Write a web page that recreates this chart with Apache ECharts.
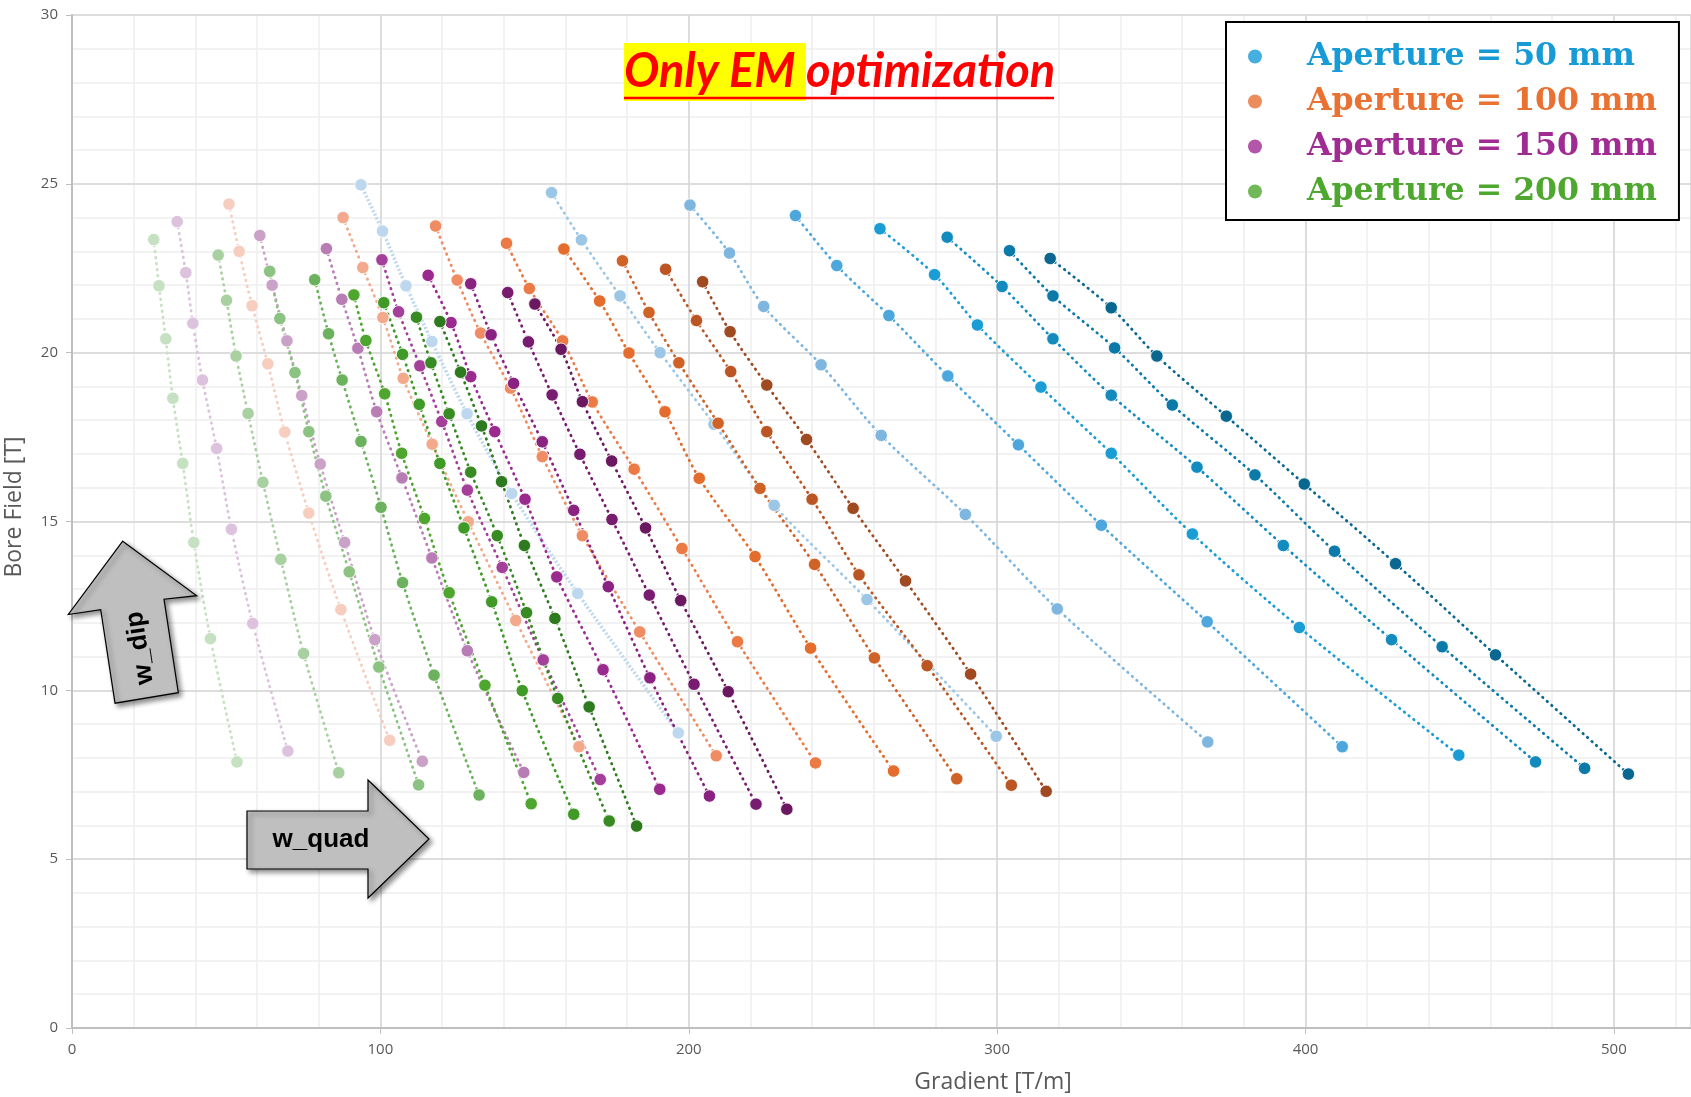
<!DOCTYPE html>
<html>
<head>
<meta charset="utf-8">
<script src="https://cdn.jsdelivr.net/npm/echarts@6/dist/echarts.min.js"></script>
<style>
html,body{margin:0;padding:0;background:#fff;}
#chart{width:1691px;height:1097px;}
</style>
</head>
<body>
<div id="chart"></div>
<script>
// ---- Data: [Gradient T/m, Bore Field T] per design line ----
const ap50 = [
  [[93.7,24.97],[100.7,23.6],[108.3,21.98],[116.7,20.33],[128.1,18.19],[142.6,15.83],[164.0,12.87],[196.6,8.74]],
  [[155.5,24.74],[165.2,23.34],[177.7,21.68],[190.7,20.0],[208.2,17.88],[227.7,15.48],[257.8,12.69],[299.7,8.64]],
  [[200.4,24.37],[213.2,22.95],[224.3,21.37],[242.9,19.64],[262.4,17.55],[289.7,15.21],[319.5,12.41],[368.3,8.47]],
  [[234.6,24.06],[248.0,22.58],[264.9,21.1],[284.0,19.31],[306.9,17.27],[333.8,14.89],[368.1,12.03],[411.9,8.33]],
  [[262.0,23.67],[279.7,22.31],[293.6,20.82],[314.2,18.98],[337.0,17.02],[363.3,14.63],[398.0,11.86],[449.7,8.08]],
  [[283.8,23.42],[301.6,21.96],[318.1,20.41],[337.0,18.74],[364.8,16.61],[392.8,14.29],[427.9,11.5],[474.6,7.88]],
  [[304.0,23.02],[318.1,21.68],[338.1,20.14],[356.8,18.45],[383.6,16.38],[409.4,14.12],[444.3,11.29],[490.5,7.69]],
  [[317.2,22.79],[337.0,21.33],[351.8,19.9],[374.3,18.12],[399.6,16.11],[429.2,13.75],[461.6,11.05],[504.7,7.52]]
];
const ap100 = [
  [[50.9,24.4],[54.2,23.0],[58.4,21.39],[63.5,19.67],[69.0,17.65],[76.8,15.25],[87.2,12.39],[103.0,8.52]],
  [[87.9,24.0],[94.3,22.52],[100.8,21.04],[107.4,19.24],[116.8,17.29],[128.5,14.99],[143.9,12.07],[164.4,8.33]],
  [[117.9,23.75],[124.9,22.15],[132.5,20.58],[142.2,18.95],[152.5,16.92],[165.5,14.58],[184.1,11.73],[208.9,8.06]],
  [[140.9,23.24],[148.3,21.9],[159.1,20.35],[168.7,18.54],[182.3,16.55],[197.8,14.2],[215.8,11.44],[241.1,7.85]],
  [[159.5,23.07],[171.1,21.53],[180.6,19.99],[192.3,18.25],[203.4,16.28],[221.5,13.96],[239.5,11.25],[266.4,7.61]],
  [[178.5,22.72],[187.1,21.19],[196.8,19.7],[209.5,17.91],[223.1,15.98],[240.8,13.73],[260.2,10.96],[286.9,7.38]],
  [[192.5,22.47],[202.5,20.95],[213.6,19.44],[225.3,17.66],[240.0,15.66],[255.2,13.42],[277.3,10.73],[304.6,7.19]],
  [[204.5,22.1],[213.4,20.62],[225.3,19.04],[238.2,17.43],[253.3,15.39],[270.3,13.24],[291.4,10.48],[315.9,7.01]]
];
const ap150 = [
  [[34.1,23.88],[36.9,22.37],[39.2,20.87],[42.3,19.19],[46.9,17.16],[51.7,14.77],[58.6,11.98],[70.0,8.2]],
  [[60.9,23.47],[64.9,22.0],[69.7,20.35],[74.5,18.73],[80.5,16.7],[88.4,14.38],[98.2,11.5],[113.6,7.9]],
  [[82.5,23.08],[87.5,21.58],[92.7,20.13],[98.8,18.25],[107.0,16.29],[116.7,13.92],[128.2,11.17],[146.5,7.57]],
  [[100.5,22.75],[105.9,21.21],[112.8,19.61],[119.9,17.96],[128.2,15.93],[139.5,13.64],[152.8,10.9],[171.3,7.36]],
  [[115.5,22.29],[122.9,20.89],[129.3,19.29],[137.1,17.66],[146.9,15.66],[157.2,13.36],[172.2,10.61],[190.6,7.07]],
  [[129.3,22.04],[135.9,20.53],[143.2,19.09],[152.5,17.36],[162.7,15.33],[173.9,13.07],[187.4,10.37],[206.7,6.87]],
  [[141.3,21.78],[148.0,20.32],[155.7,18.75],[164.7,16.99],[175.1,15.06],[187.2,12.82],[201.7,10.18],[221.8,6.63]],
  [[150.1,21.44],[158.6,20.1],[165.5,18.55],[175.0,16.79],[186.0,14.81],[197.4,12.66],[212.8,9.96],[231.8,6.48]]
];
const ap200 = [
  [[26.5,23.35],[28.2,21.98],[30.4,20.41],[32.7,18.65],[35.9,16.72],[39.5,14.38],[44.9,11.53],[53.5,7.88]],
  [[47.4,22.89],[50.1,21.55],[53.2,19.9],[57.1,18.2],[61.9,16.16],[67.7,13.88],[75.1,11.09],[86.5,7.56]],
  [[64.1,22.41],[67.4,21.01],[72.3,19.41],[76.8,17.66],[82.3,15.75],[89.9,13.51],[99.5,10.69],[112.4,7.2]],
  [[78.7,22.16],[83.2,20.56],[87.6,19.19],[93.7,17.37],[100.2,15.42],[107.2,13.19],[117.4,10.45],[132.0,6.9]],
  [[91.4,21.71],[95.3,20.36],[101.4,18.78],[106.9,17.02],[114.3,15.09],[122.3,12.89],[133.9,10.15],[148.9,6.64]],
  [[101.1,21.48],[107.2,19.95],[112.6,18.47],[119.3,16.72],[127.1,14.81],[136.1,12.62],[146.0,9.99],[162.7,6.33]],
  [[111.7,21.05],[116.4,19.7],[122.3,18.19],[129.3,16.46],[137.9,14.58],[147.4,12.3],[157.5,9.76],[174.2,6.13]],
  [[119.3,20.92],[126.0,19.42],[132.8,17.83],[139.3,16.18],[146.7,14.29],[156.6,12.13],[167.7,9.51],[183.1,5.98]]
];
const legendNames = ['Aperture = 50 mm','Aperture = 100 mm','Aperture = 150 mm','Aperture = 200 mm'];
const xTicks = [0,100,200,300,400,500];
const yTicks = [0,5,10,15,20,25,30];

// ---- Styles ----
const legendColors = ['#179bd7','#e97132','#a02b93','#4ea72e'];
const shades = [
  ['#bdd7ee','#9cc6e6','#7fb6df','#4da6dc','#1a9dd5','#138bbf','#0c7aa8','#0a6890'],
  ['#f6cdbf','#f2a98c','#ef8c63','#ec7a45','#e46c2c','#cf6227','#bb5624','#9f4a20'],
  ['#dcc2dc','#caa2c8','#b87db5','#a4409a','#9a2a8e','#8a2282','#781c70','#6a1860'],
  ['#c6e0c2','#a9d0a1','#8cc282','#6cb25e','#4ea62f','#3f9a27','#388a22','#2e7a1e']
];
const groups = [ap50, ap100, ap150, ap200];

const series = [];
groups.forEach((lines, g) => {
  lines.forEach((line, i) => {
    const c = shades[g][i];
    const special = (g === 0 && i === 0);
    series.push({
      type: 'line', data: line, smooth: 0.3, symbol: 'circle', symbolSize: 12.5,
      silent: true, animation: false, z: 2,
      lineStyle: { color: c, width: special ? 3.5 : 2.8, type: special ? [2, 2] : [0.5, 5.5], cap: special ? 'butt' : 'round' },
      itemStyle: { color: c, borderColor: 'rgba(255,255,255,0.85)', borderWidth: 1 }
    });
  });
});
legendNames.forEach((n, k) => {
  series.push({ type: 'scatter', name: n, data: [], itemStyle: { color: legendColors[k] } });
});

const axisFont = { fontFamily: 'Open Sans', fontSize: 15, color: '#595959' };

const option = {
  backgroundColor: '#fff',
  animation: false,
  grid: { left: 72, right: 0, top: 15, bottom: 69, containLabel: false },
  title: {
    text: '{a|Only EM }{b|optimization}',
    left: 624, top: 43, padding: 0,
    textStyle: {
      rich: {
        a: { backgroundColor: '#ffff00', color: '#ff0000', fontStyle: 'italic', fontWeight: 'bold', fontSize: 47, fontFamily: 'Lato', lineHeight: 58, height: 58 },
        b: { color: '#ff0000', fontStyle: 'italic', fontWeight: 'bold', fontSize: 47, fontFamily: 'Lato', lineHeight: 58, height: 58 }
      }
    }
  },
  legend: {
    orient: 'vertical', left: 1226, top: 22, padding: [15, 22, 9, 22], itemGap: 6,
    icon: 'circle', itemWidth: 14, itemHeight: 14, selectedMode: false,
    backgroundColor: '#fff', borderColor: '#000', borderWidth: 2,
    data: legendNames.map((n, k) => ({ name: n, textStyle: { color: legendColors[k] } })),
    textStyle: { fontFamily: 'DejaVu Serif', fontWeight: 'bold', fontSize: 31.6, lineHeight: 39, padding: [0, 0, 0, 40] }
  },
  xAxis: [
    {
      type: 'value', min: xTicks[0], max: 525, interval: 100, z: 1,
      axisLine: { show: true, onZero: false, lineStyle: { color: '#bfbfbf', width: 2 } },
      axisTick: { show: true, length: 6, lineStyle: { color: '#bfbfbf' } },
      axisLabel: Object.assign({ margin: 14, showMaxLabel: false }, axisFont),
      splitLine: { show: true, lineStyle: { color: '#d6d6d6', width: 1.5 } }
    },
    {
      type: 'value', min: 0, max: 525, interval: 20, z: 0,
      axisLine: { show: false }, axisTick: { show: false }, axisLabel: { show: false },
      splitLine: { show: true, lineStyle: { color: '#eeeeee', width: 1.5 } }
    }
  ],
  yAxis: [
    {
      type: 'value', min: yTicks[0], max: yTicks[yTicks.length - 1], interval: 5, z: 1,
      axisLine: { show: true, onZero: false, lineStyle: { color: '#bfbfbf', width: 2 } },
      axisTick: { show: true, length: 6, lineStyle: { color: '#bfbfbf' } },
      axisLabel: Object.assign({ margin: 14 }, axisFont),
      splitLine: { show: true, lineStyle: { color: '#d6d6d6', width: 1.5 } }
    },
    {
      type: 'value', min: 0, max: 30, interval: 1, z: 0,
      axisLine: { show: false }, axisTick: { show: false }, axisLabel: { show: false },
      splitLine: { show: true, lineStyle: { color: '#eeeeee', width: 1.5 } }
    }
  ],
  graphic: [
    { type: 'line', shape: { x1: 624, y1: 98, x2: 1054, y2: 98 }, style: { stroke: '#ff0000', lineWidth: 2.5 }, z: 10 },
    { type: 'text', x: 993, y: 1082, style: { text: 'Gradient [T/m]', align: 'center', verticalAlign: 'middle', fontFamily: 'Open Sans', fontSize: 23, fill: '#595959' } },
    { type: 'text', x: 14, y: 507, rotation: Math.PI / 2, style: { text: 'Bore Field [T]', align: 'center', verticalAlign: 'middle', fontFamily: 'Open Sans', fontSize: 23, fill: '#595959' } },
    { type: 'polygon', z: 20,
      shape: { points: [[247,811],[368,811],[368,780],[429,839],[368,898],[368,869],[247,869]] },
      style: { fill: '#bfbfbf', stroke: '#000', lineWidth: 1.2, shadowBlur: 5, shadowColor: 'rgba(0,0,0,0.45)', shadowOffsetX: 3, shadowOffsetY: 3 } },
    { type: 'text', z: 21, x: 321, y: 840, style: { text: 'w_quad', align: 'center', verticalAlign: 'middle', fontFamily: 'Liberation Sans', fontWeight: 'bold', fontSize: 26, fill: '#000' } },
    { type: 'polygon', z: 20,
      shape: { points: [[122.7,541.2],[196.7,595.7],[164,599.2],[178.3,692.7],[115,703.2],[100.7,609.6],[68.3,614.5]] },
      style: { fill: '#bfbfbf', stroke: '#000', lineWidth: 1.2, shadowBlur: 5, shadowColor: 'rgba(0,0,0,0.45)', shadowOffsetX: 3, shadowOffsetY: 3 } },
    { type: 'text', z: 21, x: 140, y: 648, rotation: 1.722, style: { text: 'w_dip', align: 'center', verticalAlign: 'middle', fontFamily: 'Liberation Sans', fontWeight: 'bold', fontSize: 26, fill: '#000' } }
  ],
  series: series
};

const chart = echarts.init(document.getElementById('chart'), null, { renderer: 'canvas' });
chart.setOption(option);
</script>
</body>
</html>
